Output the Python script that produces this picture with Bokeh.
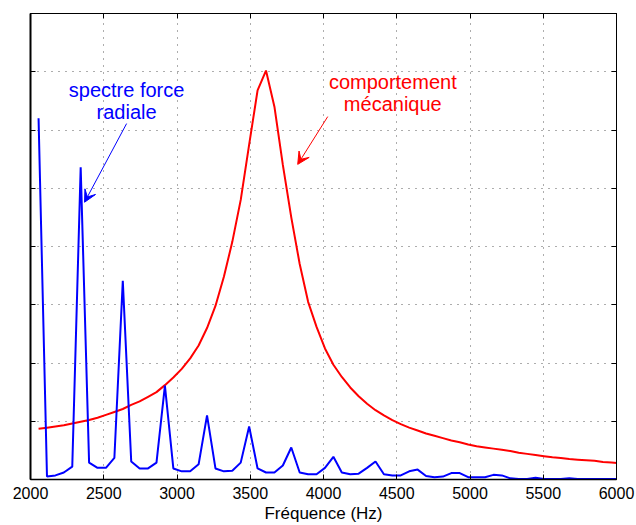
from bokeh.plotting import figure
from bokeh.models import Arrow, VeeHead, Label, LinearAxis
from bokeh.embed import file_html
from bokeh.resources import INLINE

# ---- data ----
freq = [2055, 2112.5, 2170, 2227.5, 2285, 2342.5, 2400, 2457.5, 2515, 2572.5,
        2630, 2687.5, 2745, 2802.5, 2860, 2917.5, 2975, 3032.5, 3090, 3147.5,
        3205, 3262.5, 3320, 3377.5, 3435, 3492.5, 3550, 3607.5, 3665, 3722.5,
        3780, 3837.5, 3895, 3952.5, 4010, 4067.5, 4125, 4182.5, 4240, 4297.5,
        4355, 4412.5, 4470, 4527.5, 4585, 4642.5, 4700, 4757.5, 4815, 4872.5,
        4930, 4987.5, 5045, 5102.5, 5160, 5217.5, 5275, 5332.5, 5390, 5447.5,
        5505, 5562.5, 5620, 5677.5, 5735, 5792.5, 5850, 5907.5, 5965, 6022.5]

spectre_force_radiale = [
    6.2, 0.05, 0.07, 0.12, 0.22, 5.36, 0.29, 0.2, 0.2, 0.37,
    3.41, 0.31, 0.19, 0.19, 0.29, 1.61, 0.19, 0.14, 0.14, 0.26,
    1.10, 0.19, 0.14, 0.15, 0.29, 0.91, 0.19, 0.12, 0.12, 0.24,
    0.55, 0.12, 0.09, 0.09, 0.2, 0.39, 0.12, 0.09, 0.1, 0.2,
    0.31, 0.09, 0.07, 0.07, 0.14, 0.17, 0.06, 0.04, 0.05, 0.11,
    0.11, 0.04, 0.04, 0.04, 0.08, 0.07, 0.02, 0.01, 0.01, 0.03,
    0.01, 0.01, 0.01, 0.02, 0.01, 0.01, 0.01, 0.01, 0.01, 0.01]

comportement_mecanique = [
    0.87, 0.89, 0.91, 0.93, 0.96, 0.99, 1.02, 1.06, 1.11, 1.16,
    1.21, 1.28, 1.34, 1.42, 1.5, 1.62, 1.75, 1.9, 2.08, 2.3,
    2.6, 2.98, 3.48, 4.08, 4.8, 5.75, 6.68, 7.02, 6.4, 5.4,
    4.5, 3.7, 3.05, 2.62, 2.25, 1.97, 1.76, 1.58, 1.43, 1.3,
    1.19, 1.1, 1.02, 0.95, 0.89, 0.84, 0.79, 0.75, 0.71, 0.67,
    0.64, 0.6, 0.57, 0.55, 0.53, 0.51, 0.49, 0.46, 0.44, 0.42,
    0.4, 0.38, 0.37, 0.35, 0.34, 0.33, 0.32, 0.3, 0.29, 0.28]

x_ticks = [2000, 2500, 3000, 3500, 4000, 4500, 5000, 5500, 6000]
y_ticks = [0, 1, 2, 3, 4, 5, 6, 7, 8]
x_label = "Fréquence (Hz)"
label_spectre = ["spectre force", "radiale"]
label_meca = ["comportement", "mécanique"]

FONT = "Liberation Sans"
BLUE = "#0000ff"
RED = "#ff0000"

p = figure(width=636, height=525, x_range=(2000, 6000), y_range=(0, 8),
           output_backend="svg", toolbar_location=None,
           min_border_left=30, min_border_right=20, min_border_top=13,
           min_border_bottom=45, outline_line_color="black",
           background_fill_color="white", border_fill_color="white")

p.line(freq, comportement_mecanique, color=RED, line_width=2)
p.line(freq, spectre_force_radiale, color=BLUE, line_width=2)

# grid
for g in (p.xgrid[0], p.ygrid[0]):
    g.grid_line_color = "#333333"
    g.grid_line_dash = "1 6"
    g.grid_line_alpha = 0.8
    g.grid_line_width = 1
p.xgrid[0].ticker = x_ticks
p.ygrid[0].ticker = y_ticks

def style_axis(ax, ticks, show_labels):
    ax.ticker = ticks
    ax.axis_line_color = "black"
    ax.axis_line_width = 1.5
    ax.major_tick_in = 5
    ax.major_tick_out = 0
    ax.major_tick_line_color = "black"
    ax.minor_tick_line_color = None
    if show_labels:
        ax.major_label_text_font = FONT
        ax.major_label_text_font_size = "16px"
        ax.major_label_text_color = "black"
        ax.major_label_standoff = 7
    else:
        ax.major_label_overrides = {t: "" for t in ticks}
        ax.major_label_text_font_size = "0px"
        ax.major_label_standoff = 0

style_axis(p.xaxis[0], x_ticks, True)
p.xaxis[0].axis_label = x_label
p.xaxis[0].axis_label_text_font = FONT
p.xaxis[0].axis_label_text_font_size = "17px"
p.xaxis[0].axis_label_text_font_style = "normal"
p.xaxis[0].axis_label_text_color = "black"
p.xaxis[0].axis_label_standoff = 2

style_axis(p.yaxis[0], y_ticks, False)
p.yaxis[0].axis_line_width = 2

top_axis = LinearAxis()
style_axis(top_axis, x_ticks, False)
top_axis.axis_line_width = 1
p.add_layout(top_axis, "above")

right_axis = LinearAxis()
style_axis(right_axis, y_ticks, False)
right_axis.axis_line_width = 1
p.add_layout(right_axis, "right")

# annotations
for txt, yy in zip(label_spectre, [6.69, 6.31]):
    p.add_layout(Label(x=2656, y=yy, text=txt, text_align="center",
                       text_baseline="alphabetic", text_color=BLUE,
                       text_font=FONT, text_font_size="20px"))
for txt, yy in zip(label_meca, [6.83, 6.45]):
    p.add_layout(Label(x=4473, y=yy, text=txt, text_align="center",
                       text_baseline="alphabetic", text_color=RED,
                       text_font=FONT, text_font_size="20px"))

p.add_layout(Arrow(end=VeeHead(size=12, fill_color=BLUE, line_color=BLUE, line_width=1),
                   x_start=2656, y_start=6.11, x_end=2369, y_end=4.76,
                   line_color=BLUE, line_width=1))
p.add_layout(Arrow(end=VeeHead(size=12, fill_color=RED, line_color=RED, line_width=1),
                   x_start=4029, y_start=6.23, x_end=3824, y_end=5.41,
                   line_color=RED, line_width=1))

open("out.html", "w").write(file_html(p, INLINE))
